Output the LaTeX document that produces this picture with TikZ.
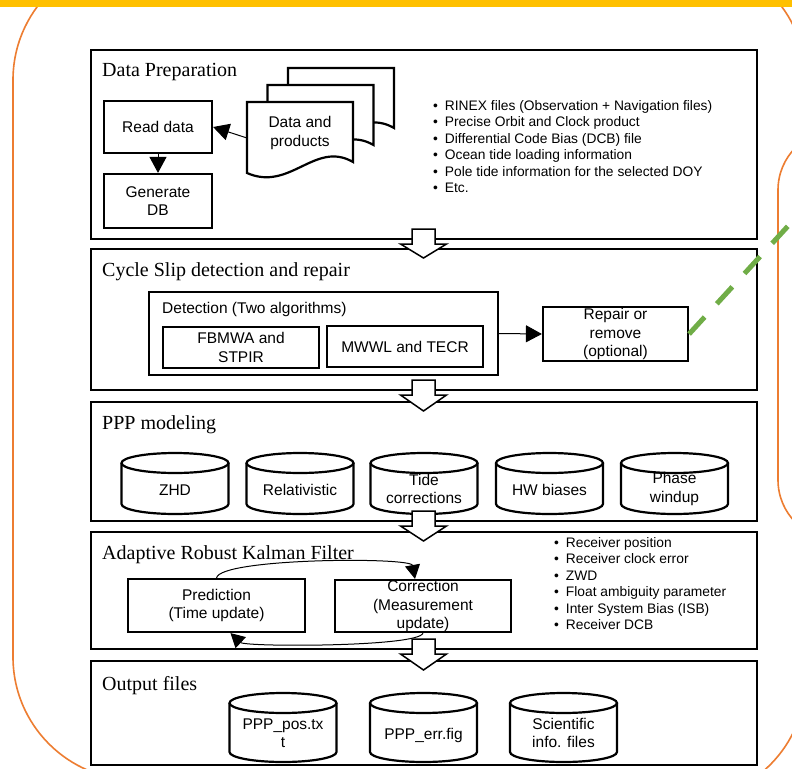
\documentclass[tikz,border=0pt]{standalone}
\usepackage{fontspec}
\setmainfont{Liberation Serif}
\setsansfont{Liberation Sans}
\usetikzlibrary{arrows.meta}
\definecolor{topbar}{HTML}{FFC000}
\definecolor{frameorange}{HTML}{ED7D31}
\definecolor{dashgreen}{HTML}{70AD47}
\tikzset{
  panel/.style={draw=black, line width=2.2pt, minimum width=666pt, inner sep=0pt},
  procbox/.style={draw=black, line width=2.2pt, fill=white, inner sep=0pt, align=center,
    font=\sffamily\fontsize{15.5}{18.5}\selectfont},
  paneltitle/.style={anchor=base west, inner sep=0pt, font=\rmfamily\fontsize{20}{24}\selectfont},
  lbl/.style={inner sep=0pt, align=center, font=\sffamily\fontsize{15.5}{18.5}\selectfont},
  bulletline/.style={anchor=base west, inner sep=0pt, font=\sffamily\fontsize{13.8}{16}\selectfont},
  tri/.style={-{Triangle[length=16pt,width=17pt]}, line width=1pt},
  smalltri/.style={-{Triangle[length=14pt,width=15pt]}, line width=1pt},
  blockarrow/.style={draw=black, fill=white, line width=1.5pt, line join=miter},
  cylline/.style={draw=black, line width=2.2pt},
  docline/.style={draw=black, line width=2.2pt, fill=white},
  orangeframe/.style={draw=frameorange, line width=1.6pt},
  greendash/.style={draw=dashgreen, line width=5pt, dash pattern=on 23pt off 18pt},
}
\newcommand\mycyl[6]{% name, cx, ytop, ybot, text y, text
  \draw[cylline, fill=white] (#2-53.5,#3+10) -- (#2-53.5,#4-10)
     arc[start angle=180,end angle=360,x radius=53.5pt,y radius=10pt] -- (#2+53.5,#3+10);
  \draw[cylline] (#2,#3+10) ellipse[x radius=53.5pt,y radius=10pt];
  \node[lbl] (#1) at (#2,#5) {#6};
}
\newcommand\blockarr[4]{% cx, shaft top, head base, tip
  \path[blockarrow] (#1-11.5,#2) -- (#1+11.5,#2) -- (#1+11.5,#3) -- (#1+23,#3) -- (#1,#4)
     -- (#1-23,#3) -- (#1-11.5,#3) -- cycle;
}
\begin{document}
\begin{tikzpicture}[x=1pt,y=-1pt]
\useasboundingbox (0,0) rectangle (792,768);
\fill[white] (0,0) rectangle (792,768);

% orange frames
\begin{scope}
\clip (0,0) rectangle (792,768);
\draw[orangeframe] (136,-43) arc[start angle=90,end angle=180,radius=123pt] -- (13,657)
   arc[start angle=180,end angle=270,radius=123pt] -- (683,801)
   arc[start angle=270,end angle=360,radius=123pt] -- (806,80)
   arc[start angle=0,end angle=90,radius=123pt] -- cycle;
\draw[orangeframe] (900,130) -- (838,130) arc[start angle=90,end angle=180,radius=60pt] -- (778,480)
   arc[start angle=180,end angle=270,radius=60pt] -- (900,540);
\end{scope}

% panels
\node[panel, minimum height=189pt] (p1) at (424,144.5) {};
\node[panel, minimum height=141pt] (p2) at (424,319.5) {};
\node[panel, minimum height=119pt] (p3) at (424,461.5) {};
\node[panel, minimum height=117pt] (p4) at (424,590.5) {};
\node[panel, minimum height=104pt] (p5) at (424,713) {};

\node[paneltitle] (t1) at (102,77) {Data Preparation};
\node[paneltitle] (t2) at (102,276) {Cycle Slip detection and repair};
\node[paneltitle] (t3) at (102,429) {PPP modeling};
\node[paneltitle] (t4) at (102,559) {Adaptive Robust Kalman Filter};
\node[paneltitle] (t5) at (102,690) {Output files};

% Data preparation
\node[procbox, minimum width=108pt, minimum height=52pt] (read) at (158,127) {Read data};
\node[procbox, minimum width=108pt, minimum height=54pt] (gen) at (158,201) {Generate\\DB};
\begin{scope}[shift={(41,-34)}]
\path[docline] (247,173) -- (247,102) -- (353,102) -- (353,162) .. controls (315,140) and (290,192) .. (247,173) -- cycle;
\end{scope}
\begin{scope}[shift={(20.5,-17)}]
\path[docline] (247,173) -- (247,102) -- (353,102) -- (353,162) .. controls (315,140) and (290,192) .. (247,173) -- cycle;
\end{scope}
\path[docline] (247,173) -- (247,102) -- (353,102) -- (353,162) .. controls (315,140) and (290,192) .. (247,173) -- cycle;
\node[lbl] (docs) at (300,133) {Data and\\products};
\coordinate (docleft) at (247,138);
\draw[tri] (docleft) -- (read.east);
\draw[tri] (read.south) -- (gen.north);

\foreach \i/\t in {0/RINEX files (Observation + Navigation files),
                   1/Precise Orbit and Clock product,
                   2/Differential Code Bias (DCB) file,
                   3/Ocean tide loading information,
                   4/Pole tide information for the selected DOY,
                   5/Etc.}
  \node[bulletline] (bl\i) at (433,110.5+16.4*\i) {•\enspace\t};

% Cycle slip
\node[procbox, minimum width=349pt, minimum height=83pt] (det) at (323.5,333.5) {};
\node[lbl, anchor=west] (detlbl) at (162,309) {Detection (Two algorithms)};
\node[procbox, minimum width=156pt, minimum height=41pt] (fb) at (241,347.5) {FBMWA and\\STPIR};
\node[procbox, minimum width=156pt, minimum height=41pt] (mw) at (405,346.5) {MWWL and TECR};
\node[procbox, minimum width=145pt, minimum height=54pt] (rep) at (615.5,334) {Repair or\\remove\\(optional)};
\draw[tri] (det.east) -- (rep.west);

% PPP modeling
\mycyl{zhd}{175}{453}{514}{490}{ZHD}
\mycyl{rel}{300}{453}{514}{490}{Relativistic}
\mycyl{tide}{424}{453}{514}{489}{Tide\\corrections}
\mycyl{hw}{549.5}{453}{514}{490}{HW biases}
\mycyl{pw}{674.5}{453}{514}{489}{Phase\\windup}

% Kalman
\node[procbox, minimum width=177pt, minimum height=53pt] (pred) at (216.5,605.5) {Prediction\\(Time update)};
\node[procbox, minimum width=176pt, minimum height=52pt] (corr) at (423,606) {Correction\\(Measurement\\update)};
\draw[smalltri] (pred.north) .. controls +(4,-20) and +(-4,-22) .. ([xshift=-8pt]corr.north);
\draw[smalltri] (corr.south) .. controls +(-4,14) and +(15,14) .. ([xshift=14pt]pred.south);
\foreach \i/\t in {0/Receiver position,
                   1/Receiver clock error,
                   2/ZWD,
                   3/Float ambiguity parameter,
                   4/Inter System Bias (ISB),
                   5/Receiver DCB}
  \node[bulletline] (kl\i) at (554,547.5+16.4*\i) {•\enspace\t};

% Output
\mycyl{pos}{283}{693}{762}{733}{PPP\_pos.tx\\t}
\mycyl{err}{423.5}{693}{762}{735}{PPP\_err.fig}
\mycyl{sci}{563.5}{693}{762}{733}{Scientific\\info. files}

% block arrows
\blockarr{423.5}{229}{244}{258}
\blockarr{423.5}{380}{395}{411}
\blockarr{423.5}{511}{526}{541}
\blockarr{423.5}{639}{654}{670}

% green dashed line
\begin{scope}
\clip (0,0) rectangle (792,768);
\draw[greendash] (rep.east) -- ++(142,-155);
\end{scope}

% top bar
\fill[topbar] (0,0) rectangle (792,7);
\end{tikzpicture}
\end{document}
